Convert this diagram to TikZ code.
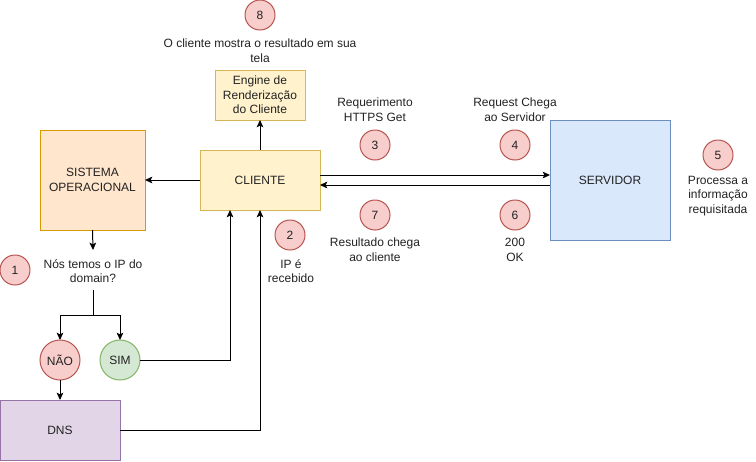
\documentclass[tikz,border=0pt]{standalone}
\usepackage{fontspec}
\setmainfont{Liberation Sans}
\usetikzlibrary{arrows.meta}
\definecolor{soFill}{HTML}{FFE6CC}\definecolor{soLine}{HTML}{D79B00}
\definecolor{ylFill}{HTML}{FFF2CC}\definecolor{ylLine}{HTML}{D6B656}
\definecolor{blFill}{HTML}{DAE8FC}\definecolor{blLine}{HTML}{6C8EBF}
\definecolor{rdFill}{HTML}{F8CECC}\definecolor{rdLine}{HTML}{B85450}
\definecolor{grFill}{HTML}{D5E8D4}\definecolor{grLine}{HTML}{82B366}
\definecolor{ppFill}{HTML}{E1D5E7}\definecolor{ppLine}{HTML}{9673A6}
\definecolor{txt}{HTML}{222222}
\tikzset{
  every node/.style={font=\fontsize{9pt}{11pt}\selectfont, text=txt, inner sep=0pt, outer sep=0pt},
  box/.style={draw, rectangle, line width=0.75pt, align=center},
  stepnum/.style={draw=rdLine, fill=rdFill, circle, line width=0.75pt, minimum size=22.5pt},
  answer/.style={draw, circle, line width=0.75pt, minimum size=30pt},
  lbl/.style={align=center},
  conn/.style={line width=0.75pt, -{Stealth[length=5.5pt,width=5pt,inset=1.2pt]}},
  plain/.style={line width=0.75pt}
}
\begin{document}
\begin{tikzpicture}[x=0.75pt,y=-0.75pt]
\useasboundingbox (0,0) rectangle (756,461);

% main boxes
\node[box, draw=soLine, fill=soFill, minimum width=78.75pt, minimum height=75pt] (so) at (92.5,180) {SISTEMA\\OPERACIONAL};
\node[box, draw=ylLine, fill=ylFill, minimum width=90pt, minimum height=45pt] (cli) at (260,180) {CLIENTE};
\node[box, draw=ylLine, fill=ylFill, minimum width=67.5pt, minimum height=37.5pt] (eng) at (260,95) {Engine de\\Renderização\\do Cliente};
\node[box, draw=blLine, fill=blFill, minimum width=90pt, minimum height=90pt] (srv) at (610,180) {SERVIDOR};
\node[box, draw=ppLine, fill=ppFill, minimum width=90pt, minimum height=45pt] (dns) at (60,430) {DNS};

% decision answers
\node[answer, draw=rdLine, fill=rdFill] (nao) at (60,360) {NÃO};
\node[answer, draw=grLine, fill=grFill] (sim) at (120,360) {SIM};

% numbered steps
\node[stepnum] (n1) at (15,270) {1};
\node[stepnum] (n2) at (290,235) {2};
\node[stepnum] (n3) at (375,145) {3};
\node[stepnum] (n4) at (515,145) {4};
\node[stepnum] (n5) at (718,155) {5};
\node[stepnum] (n6) at (515,215) {6};
\node[stepnum] (n7) at (375,215) {7};
\node[stepnum] (n8) at (260,15) {8};

% captions
\node[lbl] (c8) at (260,51) {O cliente mostra o resultado em sua\\tela};
\node[lbl] (c3) at (375,110) {Requerimento\\HTTPS Get};
\node[lbl] (c4) at (515,110) {Request Chega\\ao Servidor};
\node[lbl] (c7) at (375,250) {Resultado chega\\ao cliente};
\node[lbl] (c6) at (515,250) {200\\OK};
\node[lbl] (c5) at (718,196) {Processa a\\informação\\requisitada};
\node[lbl] (c2) at (291,271) {IP é\\recebido};
\node[lbl] (q) at (93,271) {Nós temos o IP do\\domain?};

% junction points
\coordinate (split) at (93,315);
\coordinate (qtop) at (93,250);
\coordinate (qbot) at (93,290);

% connectors
\draw[conn] (cli.west) -- (so.east);
\draw[conn] (cli.north) -- (eng.south);
\draw[conn] ([yshift=3.75pt]cli.east) -- ([yshift=3.75pt]srv.west);
\draw[conn] ([yshift=-3.75pt]srv.west) -- ([yshift=-3.75pt]cli.east);
\draw[conn] (so.south) -- (qtop);
\draw[plain] (qbot) -- (split);
\draw[conn] (split) -| (nao.north);
\draw[conn] (split) -| (sim.north);
\draw[conn] (nao.south) -- (dns.north);
\draw[conn] (sim.east) -| ([xshift=-22.5pt]cli.south);
\draw[conn] (dns.east) -| (cli.south);
\end{tikzpicture}
\end{document}
